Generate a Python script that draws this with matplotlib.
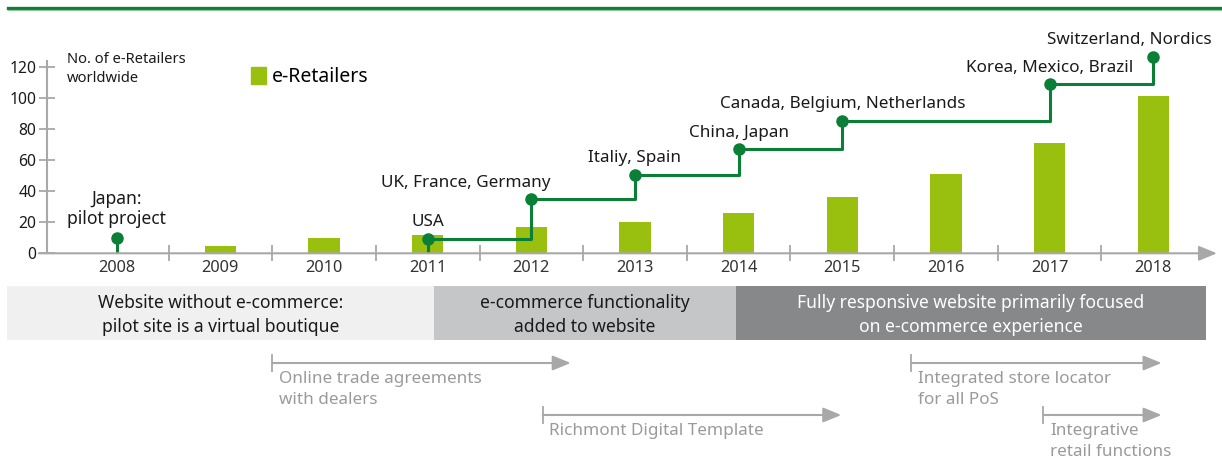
import numpy as np
import matplotlib.pyplot as plt
from matplotlib.lines import Line2D
from matplotlib.patches import Rectangle

plt.rcParams['font.family'] = ['Noto Sans', 'DejaVu Sans']

# data
years = [2008, 2009, 2010, 2011, 2012, 2013, 2014, 2015, 2016, 2017, 2018]
retailers = [0, 5, 10, 12, 17, 20, 26, 36, 51, 71, 101]

pilot_year = 2008
pilot_level = 9.6
pilot_label = "Japan:\npilot project"

entry_years = [2011, 2012, 2013, 2014, 2015, 2017, 2018]
entry_levels = [9.4, 34.7, 50.4, 66.9, 85.3, 108.7, 126.4]
entry_labels = ["USA", "UK, France, Germany", "Italiy, Spain", "China, Japan",
                "Canada, Belgium, Netherlands", "Korea, Mexico, Brazil",
                "Switzerland, Nordics"]
label_dx = [0, -47, 0, 0, 0, 0, -17]  # points, label shift

phase_start = [2006.94, 2011.06, 2013.974]
phase_end = [2011.06, 2013.974, 2018.51]
phase_labels = ["Website without e-commerce:\npilot site is a virtual boutique",
                "e-commerce functionality\nadded to website",
                "Fully responsive website primarily focused\non e-commerce experience"]

init_start = [2009.5, 2012.11, 2015.667, 2016.94]
init_end = [2012.38, 2014.99, 2018.08, 2018.08]
init_row = [0, 1, 0, 1]
init_labels = ["Online trade agreements\nwith dealers", "Richmont Digital Template",
               "Integrated store locator\nfor all PoS", "Integrative\nretail functions"]

BAR = '#99bf0f'
LINE = '#0b7f36'
AXC = '#a8a8a8'
TXT = '#1a1a1a'
phase_colors = ['#f0f0f0', '#c5c6c8', '#878889']
phase_text = [TXT, TXT, 'white']

W, H = 1222, 475
fig = plt.figure(figsize=(W / 100, H / 100), dpi=100)

# year -> pixel mapping used for layout
x0_px, step_px = 116.7, 103.66
def yr_at(px):
    return 2008 + (px - x0_px) / step_px

# background axes in pixel-y for the bottom timeline
bg = fig.add_axes([0, 0, 1, 1], zorder=0)
bg.set_xlim(yr_at(0), yr_at(W))
bg.set_ylim(H, 0)
bg.axis('off')

for s, e, lab, c, tc in zip(phase_start, phase_end, phase_labels, phase_colors, phase_text):
    bg.add_patch(Rectangle((s, 286), e - s, 54, color=c, lw=0))
    bg.text((s + e) / 2, 315, lab, ha='center', va='center', fontsize=12.6,
            color=tc, linespacing=1.38)

rows_y = [363, 415]
for s, e, r, lab in zip(init_start, init_end, init_row, init_labels):
    y = rows_y[r]
    bg.plot([s, s], [y - 8, y + 8], color=AXC, lw=1.3)
    bg.annotate('', xy=(e, y), xytext=(s, y),
                arrowprops=dict(arrowstyle='-|>,head_length=1.1,head_width=0.45',
                                color=AXC, lw=1.5, shrinkA=0, shrinkB=0))
    bg.text(s + 0.065, y + 8, lab, ha='left', va='top', fontsize=12.3,
            color='#9a9a9a', linespacing=1.42)

# top rule
fig.add_artist(Line2D([8 / W, 1], [1 - 8 / H, 1 - 8 / H], color='#0f7f35', lw=2.4))
fig.add_artist(Line2D([8 / W, 1], [1 - 10 / H, 1 - 10 / H], color='#8fc89c', lw=0.8))

# main chart
ax_left, ax_right = 47, 1217
ax_bot, ax_top = 253.3, 61.3
ax = fig.add_axes([ax_left / W, 1 - ax_bot / H, (ax_right - ax_left) / W, (ax_bot - ax_top) / H],
                  zorder=2)
ax.patch.set_alpha(0)
ax.set_xlim(yr_at(ax_left), yr_at(ax_right))
ax.set_ylim(0, 123.5)

ax.bar(years, retailers, width=0.3, color=BAR, zorder=2)

# entry step line
ax.plot(entry_years, entry_levels, drawstyle='steps-post', color=LINE, lw=2.2, zorder=3,
        clip_on=False)
ax.plot([pilot_year, pilot_year], [0, pilot_level], color=LINE, lw=2.2, zorder=3)
ax.plot([entry_years[0], entry_years[0]], [0, entry_levels[0]], color=LINE, lw=2.2, zorder=3)
ax.plot([pilot_year] + entry_years, [pilot_level] + entry_levels, 'o', color=LINE,
        ms=8, zorder=4, clip_on=False)

ax.annotate(pilot_label, (pilot_year, pilot_level), xytext=(0, 21), textcoords='offset points',
            ha='center', va='center', fontsize=12.6, color=TXT, linespacing=1.15)
for x, y, lab, dx in zip(entry_years, entry_levels, entry_labels, label_dx):
    ax.annotate(lab, (x, y), xytext=(dx, 12), textcoords='offset points',
                ha='center', va='center', fontsize=12.3, color=TXT, annotation_clip=False)

# axes styling
for side in ['top', 'right', 'bottom']:
    ax.spines[side].set_visible(False)
ax.spines['left'].set_color(AXC)
ax.spines['left'].set_linewidth(1.5)
ax.annotate('', xy=(1, 0), xytext=(-0.007, 0), xycoords='axes fraction',
            arrowprops=dict(arrowstyle='-|>,head_length=1.1,head_width=0.45',
                            color=AXC, lw=1.5, shrinkA=0, shrinkB=0))

ax.set_yticks(range(0, 121, 20))
ax.tick_params(axis='y', direction='inout', length=11, width=1.3, color=AXC,
               labelsize=11.3, labelcolor=TXT, pad=2)
ax.set_xticks(years)
ax.set_xticklabels([str(y) for y in years])
ax.set_xticks([y + 0.5 for y in years[:-1]], minor=True)
ax.tick_params(axis='x', which='major', length=0, labelsize=11.8, labelcolor='#333333', pad=5)
ax.tick_params(axis='x', which='minor', direction='inout', length=12, width=1.3, color=AXC)

ax.text(yr_at(67), (253.3 - 69) / 1.555, "No. of e-Retailers\nworldwide", ha='left',
        va='center', fontsize=10.6, color=TXT, linespacing=1.4)

# legend
ax.legend(handles=[Rectangle((0, 0), 1, 1, color=BAR)], labels=['e-Retailers'],
          loc='center left', bbox_to_anchor=((251 - ax_left) / (ax_right - ax_left),
                                             (253.3 - 77) / 192),
          frameon=False, fontsize=14, handlelength=0.75, handleheight=0.95, handletextpad=0.3,
          borderaxespad=0, borderpad=0)

plt.savefig('out.png', dpi=100)
